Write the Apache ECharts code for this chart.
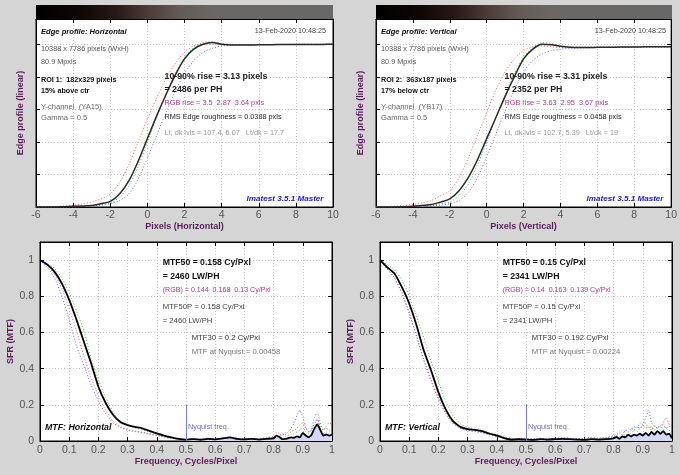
<!DOCTYPE html>
<html><head><meta charset="utf-8">
<script src="https://cdn.jsdelivr.net/npm/echarts@6/dist/echarts.min.js"></script>
<style>html,body{margin:0;padding:0;background:#d5d5d5}#c{width:680px;height:475px}</style>
</head><body><div id="c"></div><script>
// ---------- data ----------
const edgeX = [-6,-5.5,-5,-4.5,-4,-3.5,-3,-2.5,-2,-1.5,-1,-0.5,0,0.5,1,1.5,2,2.5,3,3.5,4,4.5,5,5.5,6,6.5,7,7.5,8,8.5,9,9.5,10];
const edgeH_Y = [0,0,0,0.002,0.004,0.006,0.01,0.02,0.035,0.08,0.16,0.28,0.42,0.56,0.69,0.81,0.91,0.97,1.0,1.01,1.0,0.995,0.995,0.995,0.997,0.997,0.998,0.998,0.998,0.998,0.998,0.999,1.0];
const edgeH_R = [0,0,0.003,0.006,0.01,0.02,0.03,0.05,0.08,0.15,0.26,0.4,0.54,0.67,0.79,0.88,0.95,0.99,1.0,1.0,0.995,0.993,0.995,0.996,0.997,0.997,0.998,0.998,0.998,0.999,0.999,0.999,1.0];
const edgeH_G = [0,0,0,0,0.002,0.004,0.008,0.015,0.025,0.06,0.13,0.25,0.4,0.55,0.69,0.82,0.92,0.98,1.01,1.015,1.005,1.0,0.998,0.997,0.998,0.998,0.998,0.999,0.999,0.999,0.999,1.0,1.0];
const edgeH_B = [0,0,0,0,0,0.002,0.005,0.01,0.02,0.04,0.08,0.17,0.3,0.44,0.58,0.71,0.82,0.9,0.95,0.975,0.99,0.995,0.998,0.998,0.999,0.999,0.999,0.999,1.0,1.0,1.0,1.0,1.0];
const edgeV_Y = [0,0,0,0.002,0.005,0.01,0.015,0.03,0.05,0.1,0.18,0.29,0.42,0.55,0.68,0.8,0.91,0.97,1.0,0.997,0.987,0.982,0.98,0.98,0.981,0.982,0.982,0.983,0.983,0.984,0.984,0.985,0.985];
const edgeV_R = [0,0.002,0.005,0.01,0.015,0.025,0.04,0.07,0.1,0.18,0.3,0.44,0.58,0.72,0.83,0.91,0.96,0.985,0.99,0.985,0.98,0.978,0.978,0.978,0.979,0.98,0.98,0.98,0.981,0.981,0.982,0.982,0.982];
const edgeV_G = [0,0,0,0.002,0.004,0.008,0.012,0.02,0.03,0.07,0.14,0.26,0.4,0.55,0.69,0.82,0.92,0.98,1.01,1.005,0.99,0.985,0.983,0.983,0.984,0.984,0.985,0.985,0.985,0.986,0.986,0.986,0.987];
const edgeV_B = [0,0,0,0,0.002,0.004,0.007,0.012,0.02,0.04,0.09,0.18,0.31,0.45,0.59,0.72,0.83,0.9,0.94,0.96,0.97,0.975,0.978,0.979,0.98,0.98,0.981,0.981,0.982,0.982,0.983,0.983,0.984];

const freq = [0,0.025,0.05,0.075,0.1,0.125,0.15,0.175,0.2,0.225,0.25,0.275,0.3,0.325,0.35,0.375,0.4,0.425,0.45,0.475,0.5,0.525,0.55,0.575,0.6,0.625,0.65,0.675,0.7,0.725,0.75,0.775,0.8,
  0.81,0.82,0.83,0.84,0.85,0.86,0.87,0.88,0.89,0.9,0.91,0.92,0.93,0.94,0.95,0.96,0.97,0.98,0.99,1.0];
const mtfH_Y = [1.0,0.975,0.935,0.87,0.78,0.67,0.55,0.43,0.30,0.21,0.145,0.105,0.088,0.078,0.07,0.056,0.042,0.03,0.02,0.012,0.008,0.01,0.007,0.012,0.009,0.014,0.02,0.012,0.009,0.012,0.008,0.012,0.014,
  0.03,0.022,0.01,0.012,0.016,0.02,0.018,0.026,0.02,0.045,0.03,0.02,0.035,0.07,0.092,0.06,0.03,0.036,0.03,0.035];
const mtfH_R = [1.0,0.97,0.92,0.845,0.73,0.61,0.47,0.35,0.25,0.17,0.11,0.08,0.065,0.055,0.05,0.04,0.03,0.022,0.015,0.01,0.008,0.012,0.01,0.015,0.012,0.018,0.022,0.015,0.012,0.015,0.012,0.02,0.025,
  0.05,0.04,0.03,0.045,0.035,0.05,0.06,0.07,0.09,0.1,0.07,0.05,0.06,0.09,0.12,0.08,0.06,0.08,0.1,0.09];
const mtfH_G = [1.0,0.98,0.955,0.9,0.82,0.72,0.61,0.46,0.34,0.24,0.16,0.11,0.085,0.072,0.062,0.05,0.038,0.028,0.018,0.012,0.008,0.01,0.008,0.012,0.01,0.015,0.02,0.014,0.01,0.012,0.01,0.015,0.02,
  0.03,0.02,0.015,0.025,0.03,0.035,0.04,0.05,0.06,0.08,0.05,0.04,0.07,0.13,0.16,0.1,0.06,0.07,0.06,0.05];
const mtfH_B = [1.0,0.96,0.9,0.8,0.67,0.525,0.42,0.31,0.22,0.15,0.1,0.075,0.06,0.052,0.046,0.038,0.03,0.022,0.015,0.01,0.008,0.01,0.008,0.012,0.01,0.014,0.018,0.012,0.01,0.012,0.01,0.015,0.02,
  0.02,0.03,0.04,0.035,0.05,0.07,0.1,0.14,0.17,0.13,0.08,0.05,0.06,0.1,0.12,0.07,0.04,0.05,0.04,0.04];
const mtfV_Y = [1.0,0.96,0.925,0.85,0.76,0.64,0.5,0.39,0.27,0.175,0.11,0.078,0.066,0.062,0.055,0.04,0.03,0.016,0.008,0.01,0.008,0.006,0.01,0.008,0.01,0.012,0.01,0.008,0.006,0.01,0.008,0.01,0.015,
  0.022,0.012,0.025,0.02,0.035,0.025,0.035,0.03,0.04,0.03,0.045,0.03,0.05,0.035,0.055,0.04,0.055,0.035,0.04,0.015];
const mtfV_R = [1.0,0.95,0.9,0.82,0.71,0.58,0.45,0.34,0.24,0.16,0.1,0.072,0.06,0.054,0.048,0.036,0.026,0.016,0.01,0.012,0.01,0.012,0.015,0.012,0.015,0.018,0.015,0.012,0.015,0.02,0.015,0.02,0.03,
  0.04,0.05,0.035,0.06,0.05,0.07,0.06,0.08,0.07,0.09,0.07,0.08,0.06,0.09,0.07,0.08,0.1,0.13,0.09,0.06];
const mtfV_G = [1.0,0.975,0.945,0.89,0.8,0.69,0.57,0.44,0.33,0.22,0.14,0.095,0.075,0.066,0.058,0.045,0.034,0.022,0.014,0.012,0.01,0.01,0.012,0.01,0.012,0.015,0.012,0.01,0.012,0.015,0.012,0.015,0.02,
  0.03,0.025,0.04,0.03,0.05,0.04,0.06,0.05,0.07,0.08,0.1,0.07,0.08,0.06,0.08,0.07,0.09,0.07,0.06,0.04];
const mtfV_B = [1.0,0.95,0.9,0.815,0.705,0.58,0.445,0.33,0.23,0.15,0.095,0.07,0.058,0.052,0.045,0.034,0.024,0.015,0.01,0.012,0.01,0.012,0.01,0.012,0.014,0.012,0.01,0.012,0.01,0.014,0.012,0.018,0.025,
  0.03,0.045,0.06,0.05,0.07,0.06,0.08,0.07,0.1,0.09,0.13,0.17,0.1,0.08,0.07,0.09,0.06,0.08,0.06,0.05];

const nyquist = 0.5;
const nyquistMarkTop = 0.2;

const edgeTexts = {
  left: {title:'Edge profile: Horizontal', roi:'ROI 1:  182x329 pixels', pos:'15% above ctr', chan:'Y-channel  (YA15)',
    rise:'10-90% rise = 3.13 pixels', perPH:'= 2486 per PH', rgb:'RGB rise = 3.5  2.87  3.64 pxls',
    rms:'RMS Edge roughness = 0.0388 pxls', lvls:'Lt, dk lvls = 107.4, 6.07   Lt/dk = 17.7', xname:'Pixels (Horizontal)'},
  right: {title:'Edge profile: Vertical', roi:'ROI 2:  363x187 pixels', pos:'17% below ctr', chan:'Y-channel  (YB17)',
    rise:'10-90% rise = 3.31 pixels', perPH:'= 2352 per PH', rgb:'RGB rise = 3.63  2.95  3.67 pxls',
    rms:'RMS Edge roughness = 0.0458 pxls', lvls:'Lt, dk lvls = 102.7, 5.39   Lt/dk = 19', xname:'Pixels (Vertical)'}
};
const mtfTexts = {
  left: {mtf50:'MTF50 = 0.158 Cy/Pxl', lw:'= 2460 LW/PH', rgb:'(RGB) = 0.144  0.168  0.13 Cy/Pxl', mtf50p:'MTF50P = 0.158 Cy/Pxl',
    lwp:'= 2460 LW/PH', mtf30:'MTF30 = 0.2 Cy/Pxl', nyq:'MTF at Nyquist = 0.00458', label:'MTF: Horizontal'},
  right: {mtf50:'MTF50 = 0.15 Cy/Pxl', lw:'= 2341 LW/PH', rgb:'(RGB) = 0.14  0.163  0.139 Cy/Pxl', mtf50p:'MTF50P = 0.15 Cy/Pxl',
    lwp:'= 2341 LW/PH', mtf30:'MTF30 = 0.192 Cy/Pxl', nyq:'MTF at Nyquist = 0.00224', label:'MTF: Vertical'}
};

// ---------- chart ----------
const FONT = "'Liberation Sans', Arial, sans-serif";
const PURPLE = '#5c1c5c';
const chart = echarts.init(document.getElementById('c'), null, {renderer:'canvas'});

const grids = [
  {left:36, top:19, width:297, height:188},
  {left:376, top:19, width:296, height:188},
  {left:40, top:242, width:292, height:199},
  {left:380, top:242, width:292, height:199}
].map(g => Object.assign({show:true, backgroundColor:'#fff', borderColor:'#000', borderWidth:1}, g));

const split = {show:true, lineStyle:{color:'#c4c4c4', type:[1,2], width:1}};
function bottomX(gi, min, max, interval, name, nameGap, margin) {
  return {type:'value', gridIndex:gi, min, max, interval, position:'bottom',
    name, nameLocation:'middle', nameGap,
    nameTextStyle:{color:PURPLE, fontWeight:'bold', fontSize:9, fontFamily:FONT},
    axisLine:{show:true, onZero:false, lineStyle:{color:'#000'}},
    axisTick:{show:true, inside:true, length:4, lineStyle:{color:'#000'}},
    axisLabel:{color:'#555', fontSize:10.5, fontFamily:FONT, margin},
    splitLine:split};
}
function topX(gi, min, max, interval) {
  return {type:'value', gridIndex:gi, min, max, interval, position:'top',
    axisLine:{show:true, onZero:false, lineStyle:{color:'#000'}},
    axisTick:{show:true, inside:true, length:4, lineStyle:{color:'#000'}},
    axisLabel:{show:false}, splitLine:{show:false}};
}
function leftY(gi, min, max, interval, name, nameGap, showLabels) {
  return {type:'value', gridIndex:gi, min, max, interval, position:'left',
    name, nameLocation:'middle', nameGap,
    nameTextStyle:{color:PURPLE, fontWeight:'bold', fontSize:9, fontFamily:FONT},
    axisLine:{show:true, onZero:false, lineStyle:{color:'#000'}},
    axisTick:{show:true, inside:true, length:4, lineStyle:{color:'#000'}},
    axisLabel:{show:showLabels, showMaxLabel:false, color:'#555', fontSize:10.5, fontFamily:FONT, margin:6},
    splitLine:split};
}
function rightY(gi, min, max, interval) {
  return {type:'value', gridIndex:gi, min, max, interval, position:'right',
    axisLine:{show:true, onZero:false, lineStyle:{color:'#000'}},
    axisTick:{show:true, inside:true, length:4, lineStyle:{color:'#000'}},
    axisLabel:{show:false}, splitLine:{show:false}};
}

const xAxes = [
  bottomX(0, -6, 10, 2, edgeTexts.left.xname, 14, 3),
  bottomX(1, -6, 10, 2, edgeTexts.right.xname, 14, 3),
  bottomX(2, 0, 1, 0.1, 'Frequency, Cycles/Pixel', 14, 4),
  bottomX(3, 0, 1, 0.1, 'Frequency, Cycles/Pixel', 14, 4),
  topX(0, -6, 10, 2), topX(1, -6, 10, 2), topX(2, 0, 1, 0.1), topX(3, 0, 1, 0.1)
];
const yAxes = [
  leftY(0, 0, 1.155, 0.2, 'Edge profile (linear)', 11, false),
  leftY(1, 0, 1.155, 0.2, 'Edge profile (linear)', 11, false),
  leftY(2, 0, 1.1, 0.2, 'SFR (MTF)', 20, true),
  leftY(3, 0, 1.1, 0.2, 'SFR (MTF)', 20, true),
  rightY(0, 0, 1.155, 0.2), rightY(1, 0, 1.155, 0.2), rightY(2, 0, 1.1, 0.2), rightY(3, 0, 1.1, 0.2)
];

const DOT = [1, 2];
function line(ai, xs, ys, color, type, width, z, smooth) {
  return {type:'line', xAxisIndex:ai, yAxisIndex:ai, data:xs.map((x,i)=>[x, ys[i]]),
    showSymbol:false, symbol:'none', smooth:smooth, silent:true, z,
    lineStyle:{color, type, width}};
}
function fillAbove(ai, xs, ys) {
  const d = [];
  xs.forEach((x,i)=>{ if (x >= nyquist) d.push([x, ys[i]]); });
  return {type:'line', xAxisIndex:ai, yAxisIndex:ai, data:d, showSymbol:false, symbol:'none', silent:true, z:1,
    lineStyle:{width:0, opacity:0}, areaStyle:{color:'#d6d6f6', opacity:1},
    markLine:{symbol:'none', silent:true, label:{show:false},
      lineStyle:{color:'#7a7ad8', type:'solid', width:1},
      data:[[{coord:[nyquist, 0]}, {coord:[nyquist, nyquistMarkTop]}]]}};
}
const RED='#ff5a5a', GREEN='#38c038', BLUE='#6a6aff';
const series = [
  line(0, edgeX, edgeH_R, RED, DOT, 1, 2, 0.3),
  line(0, edgeX, edgeH_G, GREEN, DOT, 1, 2, 0.3),
  line(0, edgeX, edgeH_B, BLUE, DOT, 1, 2, 0.3),
  line(0, edgeX, edgeH_Y, '#2a2a2a', 'solid', 1.5, 3, 0.3),
  line(1, edgeX, edgeV_R, RED, DOT, 1, 2, 0.3),
  line(1, edgeX, edgeV_G, GREEN, DOT, 1, 2, 0.3),
  line(1, edgeX, edgeV_B, BLUE, DOT, 1, 2, 0.3),
  line(1, edgeX, edgeV_Y, '#2a2a2a', 'solid', 1.5, 3, 0.3),
  fillAbove(2, freq, mtfH_Y),
  line(2, freq, mtfH_R, RED, DOT, 1, 2, 0.15),
  line(2, freq, mtfH_G, GREEN, DOT, 1, 2, 0.15),
  line(2, freq, mtfH_B, BLUE, DOT, 1, 2, 0.15),
  line(2, freq, mtfH_Y, '#000', 'solid', 1.8, 3, 0.15),
  fillAbove(3, freq, mtfV_Y),
  line(3, freq, mtfV_R, RED, DOT, 1, 2, 0.15),
  line(3, freq, mtfV_G, GREEN, DOT, 1, 2, 0.15),
  line(3, freq, mtfV_B, BLUE, DOT, 1, 2, 0.15),
  line(3, freq, mtfV_Y, '#000', 'solid', 1.8, 3, 0.15)
];

// ---------- annotations ----------
function T(x, y, text, size, color, weight, style, align) {
  return {type:'text', x, y, silent:true, z:100,
    style:{text, fill:color, font:(style||'normal')+' '+(weight||'normal')+' '+size+'px '+FONT,
      textAlign:align||'left', textVerticalAlign:'middle'}};
}
const graphics = [];
[['left',0],['right',340]].forEach(([k,dx])=>{
  const e = edgeTexts[k], m = mtfTexts[k];
  graphics.push({type:'rect', silent:true, z:90, shape:{x:36+dx, y:5, width:297-(k==='right'?1:0), height:14},
    style:{fill:{type:'linear', x:0, y:0, x2:1, y2:0, colorStops:[
      {offset:0, color:'#000'}, {offset:0.15, color:'#0e0707'}, {offset:0.27, color:'#2a1818'},
      {offset:0.38, color:'#4e3c38'}, {offset:0.48, color:'#625a56'}, {offset:0.6, color:'#6a6866'},
      {offset:1, color:'#686868'}]}}});
  graphics.push(
    T(41+dx, 31.5, e.title, 7.6, '#111', 'bold', 'italic'),
    T(326+dx, 31.5, '13-Feb-2020 10:48:25', 7.2, '#444', 'normal', 'normal', 'right'),
    T(41+dx, 49.3, '10388 x 7786 pixels (WxH)', 7.3, '#555'),
    T(41+dx, 62, '80.9 Mpxls', 7.3, '#555'),
    T(41+dx, 79.7, e.roi, 7.2, '#111', 'bold'),
    T(41+dx, 90.7, e.pos, 7.2, '#111', 'bold'),
    T(41+dx, 106.7, e.chan, 7.6, '#666'),
    T(41+dx, 118.3, 'Gamma = 0.5', 7.6, '#666'),
    T(164.5+dx, 77, e.rise, 8.8, '#222', 'bold'),
    T(164.5+dx, 90, e.perPH, 8.8, '#222', 'bold'),
    T(164.5+dx, 102.7, e.rgb, 7.3, '#b03890'),
    T(164.5+dx, 116.7, e.rms, 7.3, '#222'),
    T(164.5+dx, 133.3, e.lvls, 7.3, '#999'),
    T(323.5+dx, 198.3, 'Imatest 3.5.1 Master', 8.1, '#1a1ae0', 'bold', 'italic', 'right'),
    T(162.7+dx, 262.7, m.mtf50, 8.7, '#111', 'bold'),
    T(162.7+dx, 277, m.lw, 8.7, '#111', 'bold'),
    T(162.7+dx, 290, m.rgb, 7.1, '#b03890'),
    T(162.7+dx, 306.7, m.mtf50p, 7.7, '#444'),
    T(162.7+dx, 321, m.lwp, 7.7, '#444'),
    T(191.7+dx, 337.7, m.mtf30, 7.7, '#333'),
    T(191.7+dx, 351.7, m.nyq, 7.7, '#777'),
    T(45+dx, 428, m.label, 8.8, '#111', 'bold', 'italic'),
    T(188+dx, 427, 'Nyquist freq.', 7.3, '#6a6ad0')
  );
});

chart.setOption({
  animation:false,
  backgroundColor:'#d5d5d5',
  grid:grids, xAxis:xAxes, yAxis:yAxes, series, graphic:graphics
});
</script></body></html>
